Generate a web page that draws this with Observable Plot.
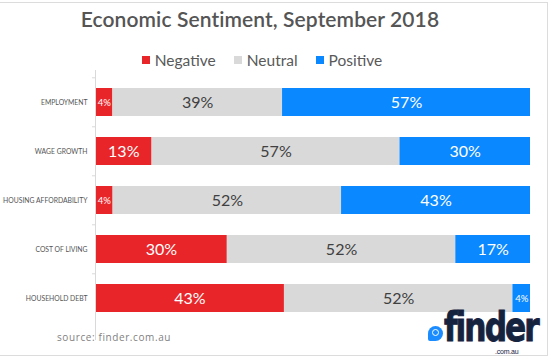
<!DOCTYPE html>
<html>
<head>
<meta charset="utf-8">
<script src="https://cdn.jsdelivr.net/npm/d3@7"></script>
<script src="https://cdn.jsdelivr.net/npm/@observablehq/plot@0.6"></script>
<style>
  html, body { margin: 0; padding: 0; background: #fff; }
  #wrap { position: relative; width: 554px; height: 364px; overflow: hidden; font-family: Lato, "Open Sans", sans-serif; }
  #frame { position: absolute; left: -1px; top: 2px; width: 549px; height: 354px; border: 1px solid #dcdcdc; box-sizing: border-box; }
  #title { position: absolute; left: 0; width: 520px; top: 6px; text-align: center; font-size: 21px; color: #555; font-weight: 600; letter-spacing: 0.1px; }
  #legend { position: absolute; left: 0; width: 524px; top: 51px; display: flex; justify-content: center; gap: 18px; font-size: 15.5px; color: #595959; }
  #legend span { display: inline-flex; align-items: center; }
  #legend i { display: inline-block; width: 8px; height: 8px; margin-right: 5px; }
  #chart { position: absolute; left: 0; top: 70px; }
  #source { position: absolute; left: 57px; top: 330px; font-size: 10px; color: #7f7f7f; letter-spacing: 0.6px; font-family: "Open Sans", sans-serif; }
  #logo { position: absolute; left: 427px; top: 312px; width: 110px; height: 45px; }
  #logo .ic { position: absolute; left: 1px; top: 14px; width: 15px; height: 15px; background: #1a8cff; border-radius: 50% 50% 50% 2px; }
  #logo .ic::after { content: ""; position: absolute; left: 4px; top: 3px; width: 5px; height: 5px; border: 1.5px solid #fff; border-radius: 50%; }
  #logo .fn { position: absolute; left: 17px; top: -3px; font-family: "DejaVu Sans", sans-serif; font-weight: bold; font-size: 40px; line-height: 36px; color: #16233f; letter-spacing: -2.5px; transform: scaleX(0.78); transform-origin: left top; -webkit-text-stroke: 1px #16233f; }
  #logo .au { position: absolute; left: 68px; top: 36px; line-height: 8px; font-family: "Liberation Sans", Arial, sans-serif; font-size: 7px; color: #16233f; letter-spacing: -0.2px; }
</style>
</head>
<body>
<div id="wrap">
  <div id="frame"></div>
  <div id="title">Economic Sentiment, September 2018</div>
  <div id="legend"></div>
  <div id="chart"></div>
  <div id="source">source: finder.com.au</div>
  <div id="logo"><div class="ic"></div><div class="fn">finder</div><div class="au">.com.au</div></div>
</div>
<script>
const categories = ["EMPLOYMENT", "WAGE GROWTH", "HOUSING AFFORDABILITY", "COST OF LIVING", "HOUSEHOLD DEBT"];
const negative = [4, 13, 4, 30, 43];
const neutral = [39, 57, 52, 52, 52];
const positive = [57, 30, 43, 17, 4];
const seriesNames = ["Negative", "Neutral", "Positive"];
const seriesColors = ["#e8262a", "#d9d9d9", "#0a88ff"];

const seriesValues = [negative, neutral, positive];
const data = [];
categories.forEach((c, i) => {
  seriesNames.forEach((s, j) => {
    data.push({category: c, sentiment: s, value: seriesValues[j][i]});
  });
});

// legend
const legend = document.getElementById("legend");
seriesNames.forEach((s, j) => {
  const span = document.createElement("span");
  span.innerHTML = `<i style="background:${seriesColors[j]}"></i>${s}`;
  legend.appendChild(span);
});

const colorOf = s => seriesColors[seriesNames.indexOf(s)];
const stackOpts = {x: "value", y: "category", z: "sentiment", offset: "normalize", order: seriesNames};
const lblSize = d => d.value < 8 ? 9.5 : 16;

const plot = Plot.plot({
  width: 554,
  height: 294,
  marginLeft: 95,
  marginRight: 24,
  marginTop: 6,
  marginBottom: 41,
  x: {domain: [0, 1], axis: null},
  y: {domain: categories, paddingInner: 0.43, paddingOuter: 0.215, label: null},
  color: {type: "identity"},
  style: {fontFamily: "Lato, 'Open Sans', sans-serif"},
  marks: [
    Plot.barX(data, Plot.stackX({...stackOpts, fill: d => colorOf(d.sentiment)})),
    Plot.ruleX([0], {stroke: "#d9d9d9", strokeWidth: 1, insetTop: -17, insetBottom: -17}),
    Plot.axisY({tickSize: 0, tickPadding: 8, fontSize: 6.8, fill: "#555", fontFamily: "Lato, sans-serif", letterSpacing: -0.45, label: null}),
    Plot.axisY({tickSize: 3, tickFormat: () => "", stroke: "#d9d9d9", dy: -24.7, label: null}),
    Plot.textX(data, Plot.stackX({...stackOpts, text: d => d.value + "%", fill: d => d.sentiment === "Neutral" ? "#404040" : "#ffffff", fontSize: lblSize}))
  ]
});
document.getElementById("chart").appendChild(plot);
</script>
</body>
</html>
